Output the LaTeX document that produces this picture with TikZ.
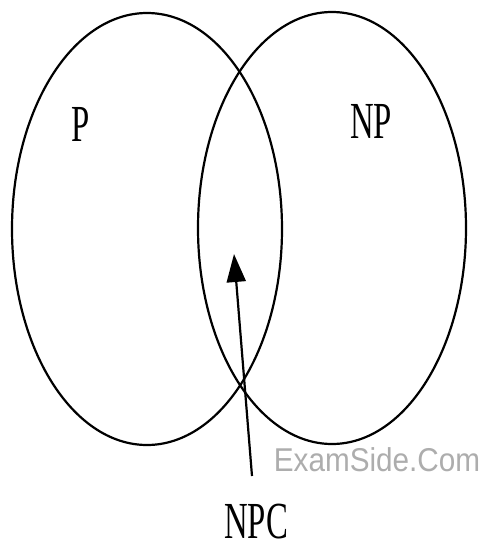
\documentclass[tikz,border=0pt]{standalone}
\usepackage{fontspec}
\setmainfont{Liberation Serif}
\newfontfamily\marksans{Liberation Sans}
\usepackage{tikz}
\usetikzlibrary{arrows.meta}

\begin{document}
\begin{tikzpicture}[x=1pt, y=-1pt,
        setline/.style={draw, line width=2.2pt},
        setlabel/.style={inner sep=0pt, xscale=0.63,
                         font=\fontsize{52}{52}\selectfont},
        arr/.style={-{Triangle[length=28pt, width=19pt]}, line width=2.2pt},
        watermark/.style={inner sep=0pt, xscale=0.9, text=black!32,
                     font=\marksans\fontsize{33}{33}\selectfont}
    ]
        \useasboundingbox (0,0) rectangle (479,550);
        \draw[setline] (147,229) ellipse [x radius=135pt, y radius=216pt];
        \draw[setline] (332,228) ellipse [x radius=134pt, y radius=216pt];
        \node[setlabel] (p)   at (81, 124)  {P};
        \node[setlabel] (np)  at (371, 121) {NP};
        \node[setlabel] (npc) at (256, 522) {NPC};
        \node[watermark] (site) at (377, 460) {ExamSide.Com};
        \coordinate (tail) at (252, 476);
        \coordinate (head) at (234, 254);
        \draw[arr] (tail) -- (head);
    \end{tikzpicture}
\end{document}
